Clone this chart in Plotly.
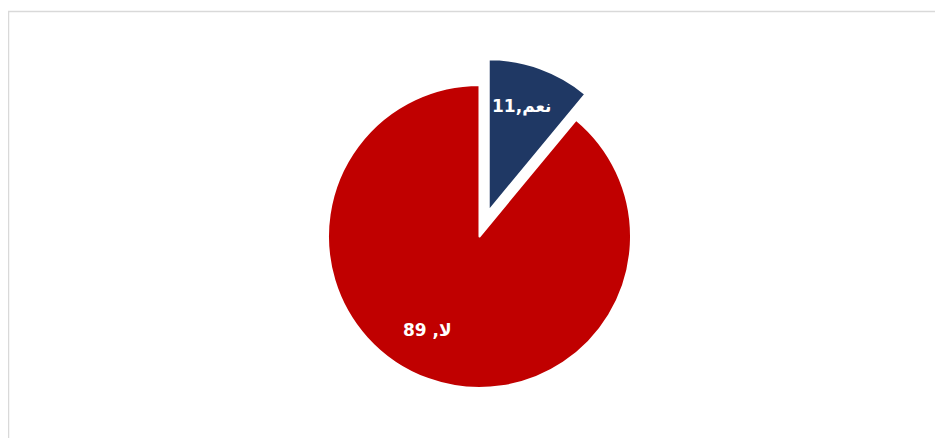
import plotly.graph_objects as go

labels = ["نعم", "لا"]
values = [11, 89]
text_labels = ["11,نعم", "89 ,لا"]
colors = ["#1F3864", "#C00000"]
pulls = [0.18, 0]
label_sizes = [17, 17]

# page body has an 8px margin; figure sized to the remaining window
W, H = 935, 430
r_px = 151.5
cx, cy = 471.5, 228.5
box = 2 * r_px * (1 + max(pulls))
yc = (H - cy) / H
xc = cx / W
hy = box / H / 2

fig = go.Figure(go.Pie(
    labels=labels,
    values=values,
    textinfo="none",
    sort=False,
    direction="clockwise",
    rotation=0,
    pull=pulls,
    marker=dict(colors=colors, line=dict(color="white", width=2)),
    domain=dict(x=[xc - 0.4, xc + 0.4], y=[yc - hy, yc + hy]),
    showlegend=False,
    hoverinfo="label+value",
))

# label anchor points (pixel positions inside figure)
label_pos = [(513, 98), (419.5, 322)]
for txt, (px, py), sz in zip(text_labels, label_pos, label_sizes):
    fig.add_annotation(x=px / W, y=1 - py / H, xref="paper", yref="paper",
                       text=f"<b>{txt}</b>", showarrow=False,
                       font=dict(family="DejaVu Sans", size=sz, color="white"),
                       xanchor="center", yanchor="middle")

fig.add_shape(type="rect", xref="paper", yref="paper",
              x0=0.5 / W, x1=1.02, y0=-0.02, y1=1 - 3.5 / H,
              line=dict(color="#D9D9D9", width=1.5), fillcolor="rgba(0,0,0,0)")

fig.update_layout(
    width=W, height=H,
    margin=dict(l=0, r=0, t=0, b=0),
    paper_bgcolor="white",
    plot_bgcolor="white",
    showlegend=False,
)

fig.write_html("out.html")
